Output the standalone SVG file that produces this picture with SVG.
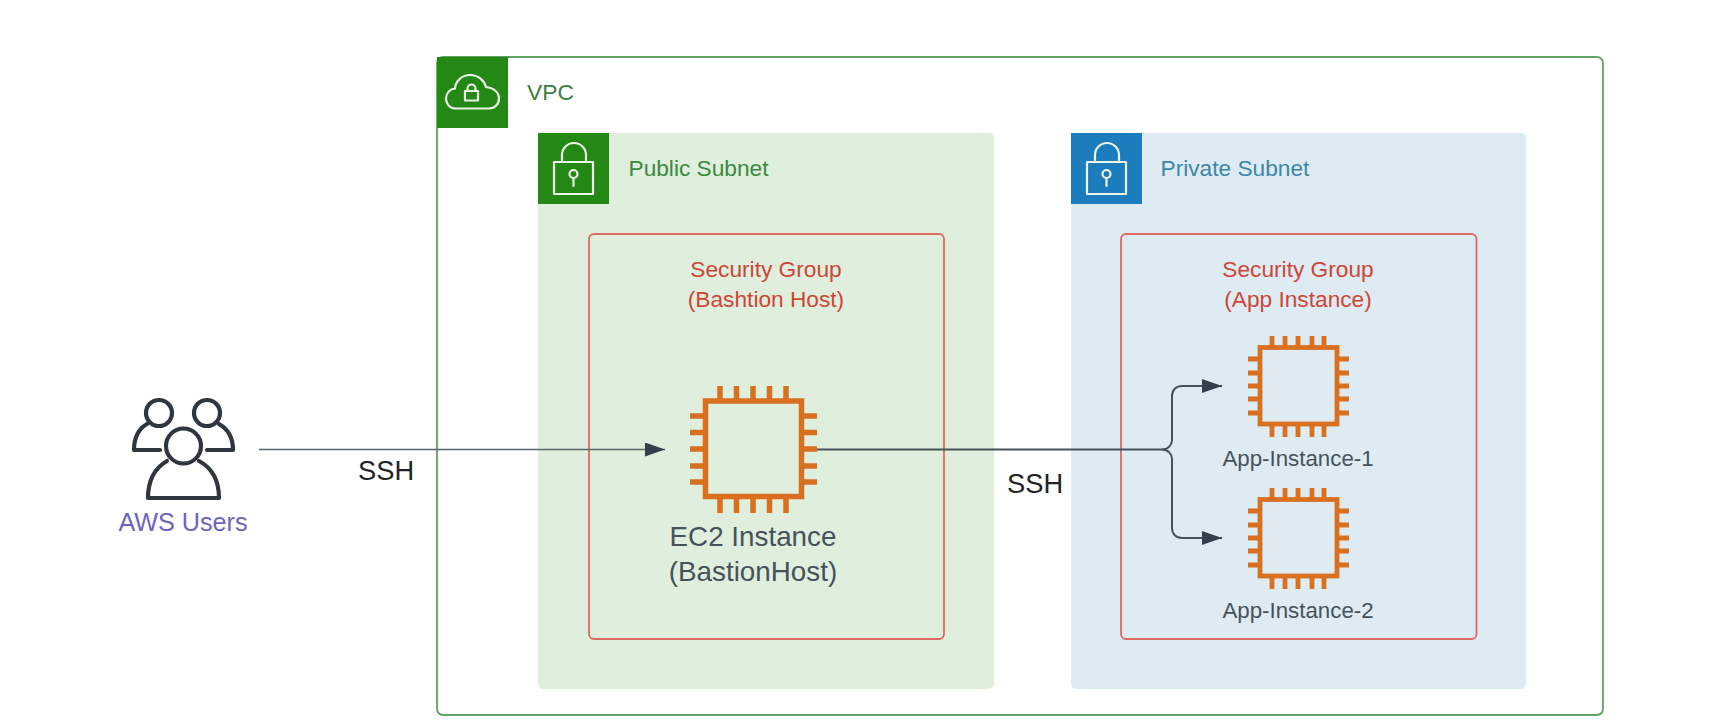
<svg xmlns="http://www.w3.org/2000/svg" xmlns:xlink="http://www.w3.org/1999/xlink" width="1724" height="726" viewBox="0 0 1724 726">
<style>
text{font-family:"Liberation Sans",Arial,sans-serif}
.sg{fill:none;stroke:#dc6a62;stroke-width:1.800}
.sgt{font-size:22.700px;fill:#cd4636;text-anchor:middle}
.chip{fill:none;stroke:#d9701f}
.ico{fill:none;stroke:#edf5ea;stroke-width:2.200;stroke-linecap:round;stroke-linejoin:round}
.usr{fill:none;stroke:#2f3640;stroke-width:4.200;stroke-linecap:round;stroke-linejoin:round}
.lbl{font-size:22.300px;fill:#46525a;text-anchor:middle}
.ssh{font-size:27.300px;fill:#1f2428}
.con{fill:none;stroke:#5a646c;stroke-width:1.500}
.con2{fill:none;stroke:#46525c;stroke-width:2}
</style>
<defs>
<marker id="arr" markerUnits="userSpaceOnUse" markerWidth="20" markerHeight="14" refX="20" refY="7" orient="auto"><path d="M0 0L20 7L0 14Z" fill="#333f4b"/></marker>
<g id="lock"><rect class="ico" x="554" y="162" width="39" height="32"/><path class="ico" d="M562 162V155A12 12 0 0 1 586 155V162"/><circle class="ico" cx="573.500" cy="174" r="4"/><path class="ico" d="M573.500 178V186"/></g>
<g id="chipBig" class="chip"><rect x="705.500" y="401" width="96" height="95.500" stroke-width="5.500"/><path stroke-width="5.500" d="M720 386V399M736.500 386V399M753 386V399M769.500 386V399M786 386V399M720 499V513M736.500 499V513M753 499V513M769.500 499V513M786 499V513M690 416H703M690 432.500H703M690 449H703M690 466H703M690 482H703M804 416H817M804 432.500H817M804 449H817M804 466H817M804 482H817"/></g>
<g id="chipSmall" class="chip"><rect x="1260" y="347.500" width="77" height="76.500" stroke-width="4.800"/><path stroke-width="4.800" d="M1272 336V346M1285 336V346M1298 336V346M1312 336V346M1324 336V346M1272 426V437M1285 426V437M1298 426V437M1312 426V437M1324 426V437M1248 359H1258M1248 373H1258M1248 386H1258M1248 399H1258M1248 413H1258M1339 359H1349M1339 373H1349M1339 386H1349M1339 399H1349M1339 413H1349"/></g>
</defs>
<rect width="1724" height="726" fill="#fff"/>
<g id="vpc">
<rect x="437" y="57" width="1166" height="658" rx="6" fill="#fff" stroke="#62a264" stroke-width="1.800"/>
<rect x="437" y="57" width="71" height="71" fill="#248814"/>
<path class="ico" d="M456 108.500C449 108.500 446 103 446 98.500C446 93 450 89 455 88.500C455.500 80 463 75 470 75C478 75 484 80 486 87C493 87.500 499 92 499 98.500C499 104 495 108.500 489 108.500Z"/>
<rect class="ico" x="465" y="91" width="13" height="9.500"/><path class="ico" d="M467.500 91V88.500A4 4 0 0 1 475.500 88.500V91"/>
<text x="527" y="100" font-size="22.800" fill="#3c7f3e">VPC</text>
</g>
<g id="public-subnet">
<rect x="538" y="133" width="456" height="556" rx="5" fill="#e0eedd"/>
<rect x="538" y="133" width="71" height="71" fill="#248814"/>
<use xlink:href="#lock"/>
<text x="628.500" y="176" font-size="22.700" fill="#3a8a3c">Public Subnet</text>
</g>
<g id="private-subnet">
<rect x="1071" y="133" width="455" height="556" rx="5" fill="#deebf3"/>
<rect x="1071" y="133" width="71" height="71" fill="#1b7dbd"/>
<use xlink:href="#lock" x="533"/>
<text x="1160.500" y="176" font-size="22.700" fill="#3d86a8">Private Subnet</text>
</g>
<g id="sg-bastion">
<rect class="sg" x="589" y="234" width="355" height="405" rx="5"/>
<text class="sgt" x="766" y="277">Security Group</text>
<text class="sgt" x="766" y="306.500">(Bashtion Host)</text>
</g>
<g id="sg-app">
<rect class="sg" x="1121" y="234" width="355.500" height="405" rx="5"/>
<text class="sgt" x="1298" y="277">Security Group</text>
<text class="sgt" x="1298" y="306.500">(App Instance)</text>
</g>
<g id="aws-users">
<circle class="usr" cx="159" cy="413" r="13"/>
<circle class="usr" cx="207" cy="413" r="13"/>
<path class="usr" d="M147 424C140 428 134 436 134 450H160"/>
<path class="usr" d="M219 424C226 428 233 436 233 450H207"/>
<circle class="usr" cx="183.500" cy="446" r="17.500"/>
<path class="usr" d="M167 461C155 468 148 481 148 498H219C219 481 212 468 199 461"/>
<text x="183" y="531" font-size="25.200" fill="#6b63c1" text-anchor="middle">AWS Users</text>
</g>
<g id="ec2-bastion">
<use xlink:href="#chipBig"/>
<text x="753" y="545.500" font-size="27.800" fill="#46525a" text-anchor="middle">EC2 Instance</text>
<text x="753" y="580.500" font-size="27.800" fill="#46525a" text-anchor="middle">(BastionHost)</text>
</g>
<g id="app-instance-1">
<use xlink:href="#chipSmall"/>
<text class="lbl" x="1298" y="465.500">App-Instance-1</text>
</g>
<g id="app-instance-2">
<use xlink:href="#chipSmall" y="152"/>
<text class="lbl" x="1298" y="617.500">App-Instance-2</text>
</g>
<g id="connectors">
<path class="con" d="M259 449.500H665" marker-end="url(#arr)"/>
<path class="con2" d="M817 449.500H1162C1168 449.500 1172 445 1172 440V396C1172 390 1176 386 1182 386H1222" marker-end="url(#arr)"/>
<path class="con2" d="M1162 449.500C1168 449.500 1172 454 1172 459V528C1172 534 1176 538 1182 538H1222" marker-end="url(#arr)"/>
<text class="ssh" x="358" y="480">SSH</text>
<text class="ssh" x="1007" y="493">SSH</text>
</g>
</svg>
